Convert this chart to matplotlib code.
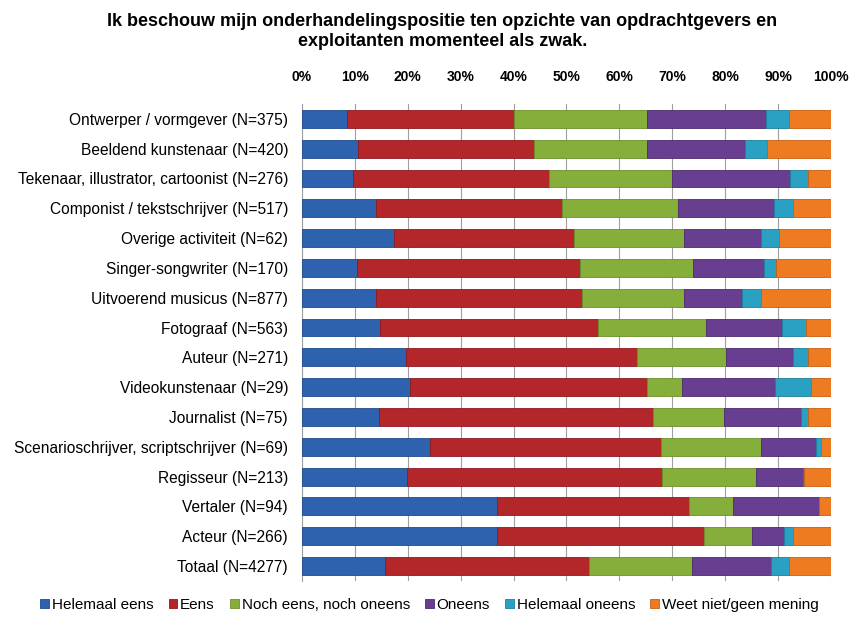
import matplotlib.pyplot as plt
import numpy as np

plt.rcParams['font.family'] = ['Liberation Sans', 'DejaVu Sans']

categories = [
    "Ontwerper / vormgever (N=375)",
    "Beeldend kunstenaar (N=420)",
    "Tekenaar, illustrator, cartoonist (N=276)",
    "Componist / tekstschrijver (N=517)",
    "Overige activiteit (N=62)",
    "Singer-songwriter (N=170)",
    "Uitvoerend musicus (N=877)",
    "Fotograaf (N=563)",
    "Auteur (N=271)",
    "Videokunstenaar (N=29)",
    "Journalist (N=75)",
    "Scenarioschrijver, scriptschrijver (N=69)",
    "Regisseur (N=213)",
    "Vertaler (N=94)",
    "Acteur (N=266)",
    "Totaal (N=4277)",
]

series_names = ["Helemaal eens", "Eens", "Noch eens, noch oneens",
                "Oneens", "Helemaal oneens", "Weet niet/geen mening"]

helemaal_eens = [8.5, 10.5, 9.7, 13.9, 17.4, 10.4, 14.0, 14.8, 19.7, 20.4, 14.5, 24.2, 19.8, 36.9, 36.9, 15.7]
eens = [31.6, 33.3, 37.0, 35.3, 34.0, 42.2, 38.9, 41.2, 43.7, 44.8, 51.8, 43.7, 48.3, 36.2, 39.1, 38.6]
noch = [25.1, 21.4, 23.3, 21.8, 20.9, 21.3, 19.4, 20.4, 16.7, 6.7, 13.4, 18.8, 17.7, 8.4, 9.1, 19.4]
oneens = [22.5, 18.6, 22.3, 18.3, 14.4, 13.5, 10.8, 14.4, 12.8, 17.5, 14.6, 10.4, 8.9, 16.2, 6.1, 15.0]
helemaal_oneens = [4.3, 4.1, 3.3, 3.6, 3.4, 2.2, 3.6, 4.4, 2.7, 6.9, 1.3, 1.1, 0.3, 0.0, 1.7, 3.3]
weet_niet = [8.0, 12.1, 4.4, 7.1, 9.9, 10.4, 13.3, 4.8, 4.4, 3.7, 4.4, 1.8, 5.0, 2.3, 7.1, 8.0]

colors = ['#2F62AE', '#B3262A', '#86AE3A', '#673E90', '#2AA0C2', '#EE7A22']
edges = ['#1F4C8C', '#8E1A1E', '#6C9029', '#4D2A70', '#1C7F9C', '#C55F10']

fig = plt.figure(figsize=(8.54, 6.26), dpi=100)
ax = fig.add_axes([0.3536, 0.072, 0.6194, 0.762])

y = np.arange(len(categories))
left = np.zeros(len(categories))
for name, vals, c, ec in zip(series_names,
                             [helemaal_eens, eens, noch, oneens, helemaal_oneens, weet_niet],
                             colors, edges):
    vals = np.array(vals)
    ax.barh(y, vals, left=left, height=0.6, color=c, edgecolor=ec,
            linewidth=0.6, label=name, zorder=3)
    left += vals

ax.set_xlim(0, 100)
ax.set_ylim(len(categories) - 0.5, -0.5)
ax.set_xticks(np.arange(0, 101, 10))
ax.set_xticklabels([f"{v}%" for v in range(0, 101, 10)], fontsize=10, fontweight='bold')
ax.xaxis.tick_top()
ax.tick_params(axis='x', length=0, pad=14)
ax.set_yticks(y)
ax.set_yticklabels(categories, fontsize=11.2)
ax.tick_params(axis='y', length=0, pad=10)
ax.grid(axis='x', color='#A0A0A0', linewidth=0.8, zorder=0)

for s in ['top', 'right', 'bottom']:
    ax.spines[s].set_visible(False)
ax.spines['left'].set_color('#A0A0A0')

fig.text(0.518, 0.98,
         "Ik beschouw mijn onderhandelingspositie ten opzichte van opdrachtgevers en\nexploitanten momenteel als zwak.",
         ha='center', va='top', fontsize=13, fontweight='bold', linespacing=1.3)

fig.legend(loc='lower center', bbox_to_anchor=(0.503, 0.0), ncol=6, frameon=False,
           fontsize=11, handlelength=0.55, handleheight=0.55, handletextpad=0.2,
           columnspacing=1.0)

plt.savefig("out.png", dpi=100)
